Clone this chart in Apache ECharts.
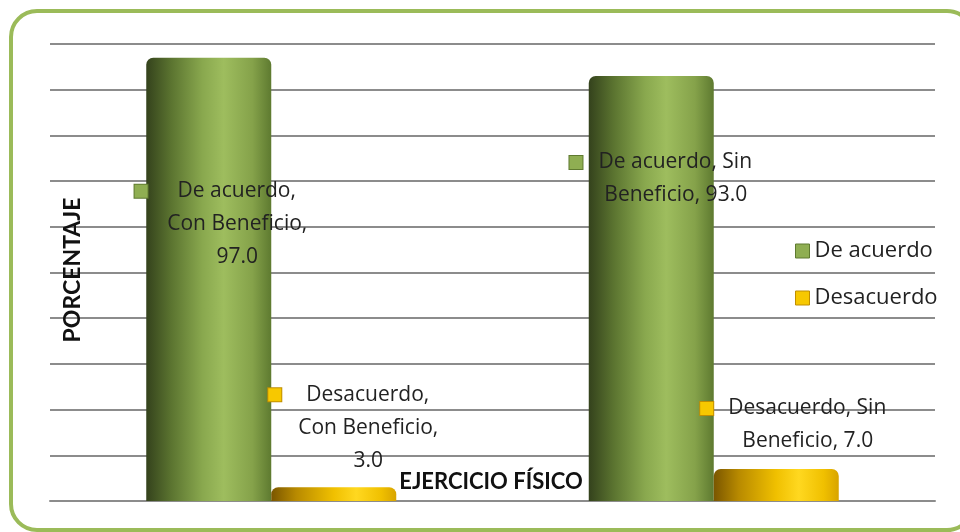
<!DOCTYPE html>
<html>
<head>
<meta charset="utf-8">
<script src="https://cdn.jsdelivr.net/npm/echarts@6/dist/echarts.min.js"></script>
<style>html,body{margin:0;padding:0;background:#fff;}#c{width:960px;height:532px;}</style>
</head>
<body>
<div id="c"></div>
<script>
const categories = ['Con Beneficio', 'Sin Beneficio'];
const seriesNames = ['De acuerdo', 'Desacuerdo'];
const deAcuerdo = [97.0, 93.0];
const desacuerdo = [3.0, 7.0];
const yTicks = [0, 10, 20, 30, 40, 50, 60, 70, 80, 90, 100];
const xTitle = 'EJERCICIO FÍSICO';
const yTitle = 'PORCENTAJE';

// layout (label placement relative to the bar rectangles)
const greenLabelPos = [[91, 117], [87, 70]];
const yellowLabelPos = [[97, -109], [94, -77]];
const greenGap = [30, 16];
const yellowGap = [25, 15];

const FONT = '"Open Sans"';
const TITLE_FONT = 'Lato';

function labelText(p, gap) {
  const v = Number(p.value).toFixed(1);
  let lines;
  if (p.dataIndex === 0) {
    lines = [p.seriesName + ',', p.name + ',', v];
  } else {
    const parts = p.name.split(' ');
    lines = [p.seriesName + ', ' + parts[0], parts[1] + ', ' + v];
  }
  const out = [];
  out.push('{m|}{g' + gap + '|}{t|' + lines[0] + '}{p' + gap + '|}');
  for (let i = 1; i < lines.length; i++) out.push('{t|' + lines[i] + '}');
  return out.join('\n');
}

function rich(markerColor, markerBorder, gaps) {
  const r = {
    m: {width: 13, height: 13, backgroundColor: markerColor, borderColor: markerBorder, borderWidth: 1, align: 'center'},
    t: {fontFamily: FONT, fontSize: 21, color: '#222', lineHeight: 33, align: 'center'}
  };
  gaps.forEach(g => {
    r['g' + g] = {width: g, align: 'center'};
    r['p' + g] = {width: g + 14, align: 'center'};
  });
  return r;
}

const greenGrad = new echarts.graphic.LinearGradient(0, 0, 1, 0, [
  {offset: 0, color: '#34421c'},
  {offset: 0.2, color: '#5b7430'},
  {offset: 0.45, color: '#89a84e'},
  {offset: 0.62, color: '#9ebd5e'},
  {offset: 0.85, color: '#85a24a'},
  {offset: 1, color: '#5e7a30'}
]);
const yellowGrad = new echarts.graphic.LinearGradient(0, 0, 1, 0, [
  {offset: 0, color: '#7a5600'},
  {offset: 0.2, color: '#b88a00'},
  {offset: 0.5, color: '#f0c000'},
  {offset: 0.68, color: '#ffd820'},
  {offset: 0.88, color: '#f0c000'},
  {offset: 1, color: '#d8a400'}
]);

const chart = echarts.init(document.getElementById('c'), null, {renderer: 'canvas'});
chart.setOption({
  animation: false,
  backgroundColor: '#fff',
  grid: {left: 50, right: 25, top: 44, bottom: 31},
  legend: {
    orient: 'vertical', left: 795, top: 236, padding: 0,
    itemWidth: 14, itemHeight: 14, itemGap: 17,
    icon: 'rect',
    textStyle: {fontFamily: FONT, fontSize: 22, color: '#222', lineHeight: 30},
    data: [
      {name: seriesNames[0], itemStyle: {color: '#8fae52', borderColor: '#5f7a30', borderWidth: 1}},
      {name: seriesNames[1], itemStyle: {color: '#f7c800', borderColor: '#c08e00', borderWidth: 1}}
    ]
  },
  xAxis: {
    type: 'category', data: categories,
    axisLine: {show: true, lineStyle: {color: '#8c8c8c', width: 2}},
    axisTick: {show: false}, axisLabel: {show: false}
  },
  yAxis: {
    type: 'value', min: yTicks[0], max: yTicks[yTicks.length - 1], interval: yTicks[1] - yTicks[0],
    axisLine: {show: false}, axisTick: {show: false}, axisLabel: {show: false},
    splitLine: {lineStyle: {color: '#8c8c8c', width: 2}}
  },
  series: [
    {
      name: seriesNames[0], type: 'bar', barWidth: 125, barGap: '0%',
      itemStyle: {color: greenGrad, borderRadius: [7, 7, 0, 0]},
      data: deAcuerdo.map((v, i) => ({
        value: v,
        label: {show: true, position: greenLabelPos[i], align: 'center', verticalAlign: 'top',
          formatter: p => labelText(p, greenGap[i]), rich: rich('#8fae52', '#5f7a30', greenGap)}
      }))
    },
    {
      name: seriesNames[1], type: 'bar', barWidth: 125, barGap: '0%',
      itemStyle: {color: yellowGrad, borderRadius: [7, 7, 0, 0]},
      data: desacuerdo.map((v, i) => ({
        value: v,
        label: {show: true, position: yellowLabelPos[i], align: 'center', verticalAlign: 'top',
          formatter: p => labelText(p, yellowGap[i]), rich: rich('#f7c800', '#c08e00', yellowGap)}
      }))
    }
  ],
  graphic: [
    {type: 'rect', shape: {x: 11, y: 11, width: 962, height: 519, r: 26},
      style: {fill: 'none', stroke: '#9bbb59', lineWidth: 4}, z: 100},
    {type: 'text', x: 73, y: 270, rotation: Math.PI / 2,
      style: {text: yTitle, font: 'bold 23px ' + TITLE_FONT, fill: '#111', textAlign: 'center', textVerticalAlign: 'middle'}, z: 100},
    {type: 'text', x: 491, y: 482,
      style: {text: xTitle, font: 'bold 22px ' + TITLE_FONT, fill: '#111', textAlign: 'center', textVerticalAlign: 'middle'}, z: 100}
  ]
});
</script>
</body>
</html>
